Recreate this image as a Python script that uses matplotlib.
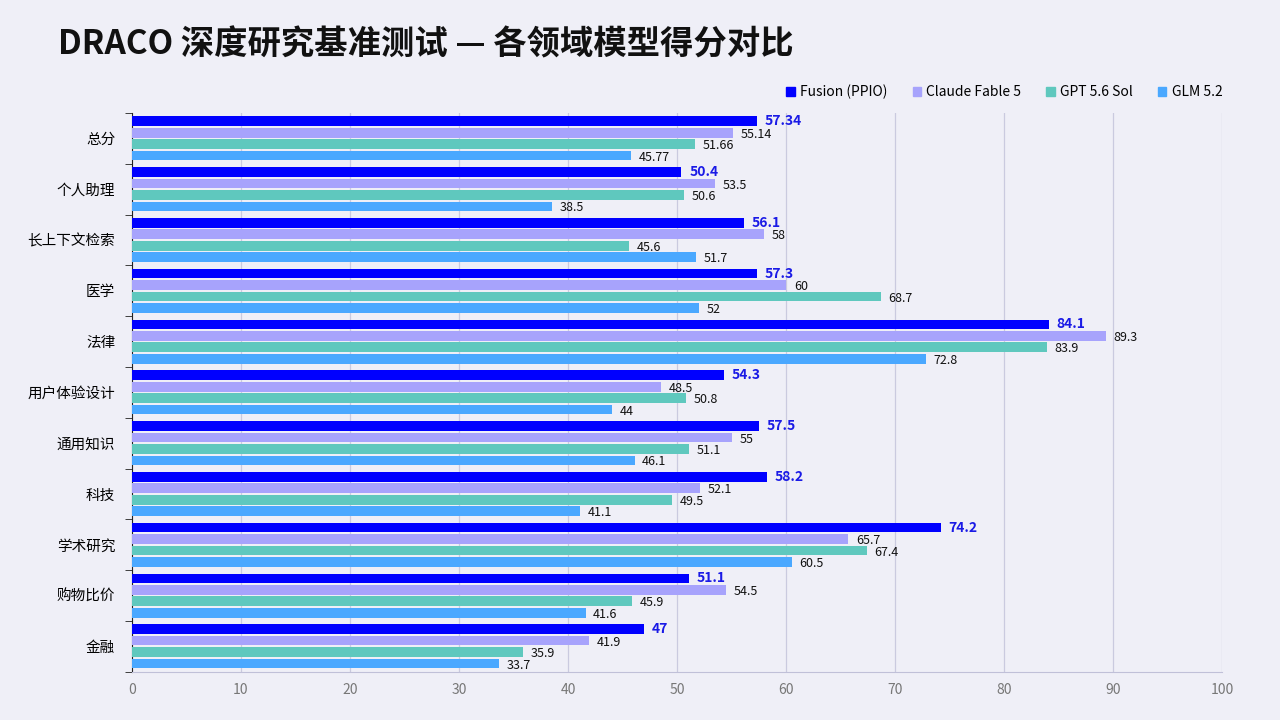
import numpy as np
import matplotlib.pyplot as plt
from matplotlib.patches import Patch

plt.rcParams['font.family'] = ['Noto Sans CJK SC', 'DejaVu Sans']

categories = ['总分', '个人助理', '长上下文检索', '医学', '法律', '用户体验设计',
              '通用知识', '科技', '学术研究', '购物比价', '金融']
series_names = ['Fusion (PPIO)', 'Claude Fable 5', 'GPT 5.6 Sol', 'GLM 5.2']
fusion = [57.34, 50.4, 56.1, 57.3, 84.1, 54.3, 57.5, 58.2, 74.2, 51.1, 47]
claude = [55.14, 53.5, 58, 60, 89.3, 48.5, 55, 52.1, 65.7, 54.5, 41.9]
gpt = [51.66, 50.6, 45.6, 68.7, 83.9, 50.8, 51.1, 49.5, 67.4, 45.9, 35.9]
glm = [45.77, 38.5, 51.7, 52, 72.8, 44, 46.1, 41.1, 60.5, 41.6, 33.7]
labels = [['57.34', '50.4', '56.1', '57.3', '84.1', '54.3', '57.5', '58.2', '74.2', '51.1', '47'],
          ['55.14', '53.5', '58', '60', '89.3', '48.5', '55', '52.1', '65.7', '54.5', '41.9'],
          ['51.66', '50.6', '45.6', '68.7', '83.9', '50.8', '51.1', '49.5', '67.4', '45.9', '35.9'],
          ['45.77', '38.5', '51.7', '52', '72.8', '44', '46.1', '41.1', '60.5', '41.6', '33.7']]

colors = ['#0000FF', '#A7A3FC', '#5FC8BE', '#4AA8FF']
bg = '#EFEFF7'

fig = plt.figure(figsize=(12.8, 7.2), dpi=100, facecolor=bg)
ax = fig.add_axes([0.103, 0.067, 0.852, 0.776])
ax.set_facecolor(bg)

ind = np.arange(len(categories))
step = 0.225
height = 0.19
data = [fusion, claude, gpt, glm]
for i, vals in enumerate(data):
    pos = ind + (i - 1.5) * step
    ax.barh(pos, vals, height, color=colors[i], zorder=3)
    for p, v, t in zip(pos, vals, labels[i]):
        if i == 0:
            ax.text(v + 0.7, p, t, va='center', ha='left', fontsize=10,
                    fontweight='bold', color='#1A1AE6', zorder=4)
        else:
            ax.text(v + 0.7, p + 0.03, t, va='center', ha='left', fontsize=9,
                    color='#111111', zorder=4)

ax.set_xlim(0, 100)
ax.set_ylim(len(categories) - 0.5, -0.5)
ax.set_xticks(np.arange(0, 101, 10))
ax.tick_params(axis='x', length=0, labelsize=10, labelcolor='#777777', pad=8)
ax.set_yticks(ind)
ax.set_yticklabels(categories, fontsize=10.5)
ax.set_yticks(np.arange(-0.5, len(categories)), minor=True)
ax.tick_params(axis='y', which='major', length=0, pad=12)
ax.tick_params(axis='y', which='minor', length=5, color='#222222')
ax.grid(axis='x', color='#CACADF', linewidth=0.9, zorder=0)

for s in ['top', 'right']:
    ax.spines[s].set_visible(False)
ax.spines['left'].set_color('#222222')
ax.spines['bottom'].set_color('#C0C0D8')

fig.text(0.045, 0.937, 'DRACO 深度研究基准测试 — 各领域模型得分对比', fontsize=24,
         fontweight='bold', color='#111111', va='center')

handles = [Patch(color=c) for c in colors]
fig.legend(handles, series_names, loc='upper right', bbox_to_anchor=(0.965, 0.9),
           ncol=4, frameon=False, fontsize=10, handlelength=0.6, handleheight=0.6,
           handletextpad=0.4, columnspacing=1.8)

plt.savefig('out.png', dpi=100, facecolor=bg)
